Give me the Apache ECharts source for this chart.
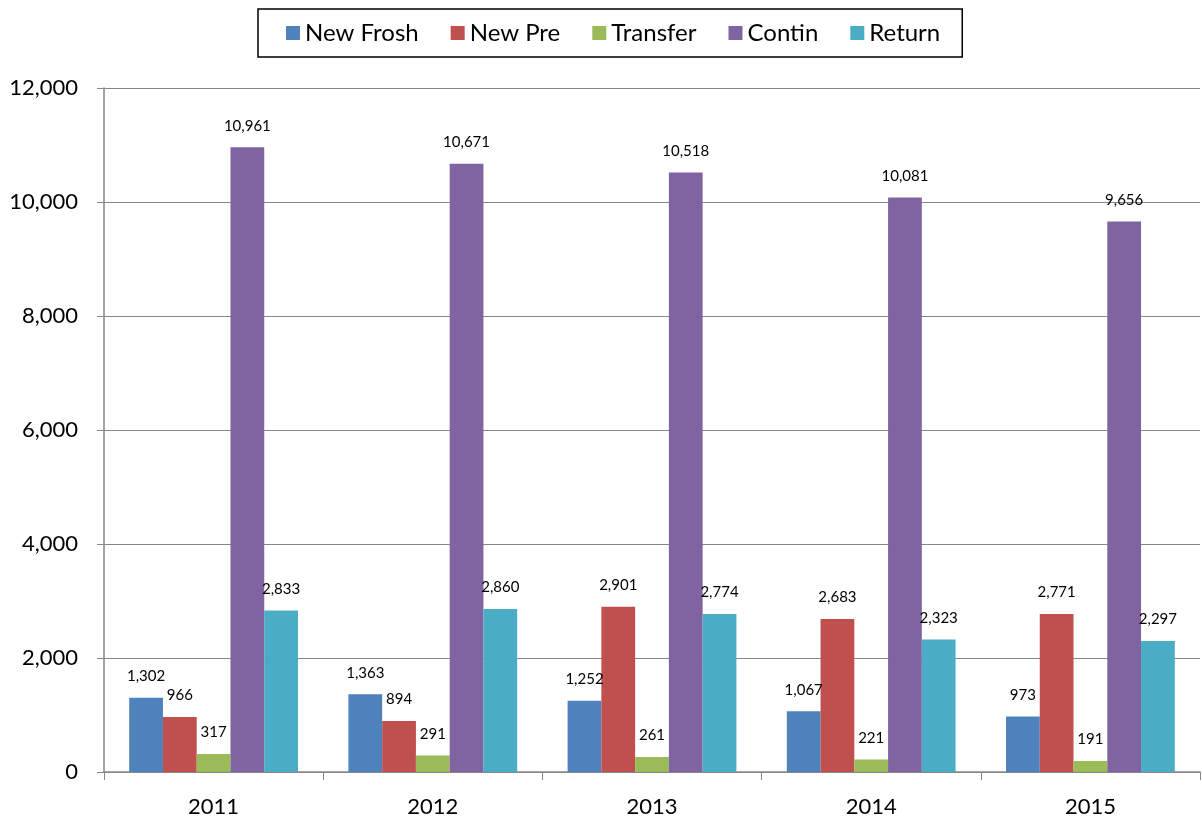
<!DOCTYPE html>
<html>
<head>
<meta charset="utf-8">
<script src="https://cdn.jsdelivr.net/npm/echarts@6/dist/echarts.min.js"></script>
<style>
  html, body { margin: 0; padding: 0; background: #fff; }
  #chart { width: 1202px; height: 819px; }
</style>
</head>
<body>
<div id="chart"></div>
<script>
const years = ['2011', '2012', '2013', '2014', '2015']
const newFrosh = [1302, 1363, 1252, 1067, 973]
const newPre = [966, 894, 2901, 2683, 2771]
const transfer = [317, 291, 261, 221, 191]
const contin = [10961, 10671, 10518, 10081, 9656]
const returning = [2833, 2860, 2774, 2323, 2297]

const fontFamily = 'Lato, "Open Sans", sans-serif'
const fmt = v => v.toLocaleString('en-US')

const chart = echarts.init(document.getElementById('chart'))

const makeSeries = (name, data, color) => ({
  name,
  type: 'bar',
  data,
  barGap: '0%',
  barCategoryGap: '23%',
  itemStyle: { color },
  label: {
    show: true,
    position: 'top',
    distance: 14,
    fontSize: 15,
    fontFamily,
    color: '#000',
    formatter: p => fmt(p.value)
  }
})

const option = {
  animation: false,
  textStyle: { fontFamily },
  legend: {
    top: 9,
    left: 258,
    itemWidth: 14,
    itemHeight: 14,
    itemGap: 32,
    padding: [12, 22, 12, 28],
    borderColor: '#000',
    borderWidth: 1.5,
    icon: 'rect',
    textStyle: { fontSize: 24, color: '#000', fontFamily },
    data: ['New Frosh', 'New Pre', 'Transfer', 'Contin', 'Return']
  },
  grid: { left: 104, right: 2, top: 88, bottom: 47 },
  xAxis: {
    type: 'category',
    data: years,
    axisLine: { lineStyle: { color: '#888', width: 1.5 } },
    axisTick: { show: true, length: 8, lineStyle: { color: '#888' } },
    axisLabel: { fontSize: 22, color: '#000', margin: 24, fontFamily }
  },
  yAxis: {
    type: 'value',
    min: 0,
    max: 12000,
    interval: 2000,
    axisLine: { show: true, lineStyle: { color: '#888', width: 1.5 } },
    axisTick: { show: true, length: 7, lineStyle: { color: '#888' } },
    axisLabel: { fontSize: 22, color: '#000', margin: 26, fontFamily, formatter: v => fmt(v) },
    splitLine: { lineStyle: { color: '#888', width: 1.2 } }
  },
  series: [
    makeSeries('New Frosh', newFrosh, '#4F81BD'),
    makeSeries('New Pre', newPre, '#C0504D'),
    makeSeries('Transfer', transfer, '#9BBB59'),
    makeSeries('Contin', contin, '#8064A2'),
    makeSeries('Return', returning, '#4BACC6')
  ]
}

chart.setOption(option)
</script>
</body>
</html>
